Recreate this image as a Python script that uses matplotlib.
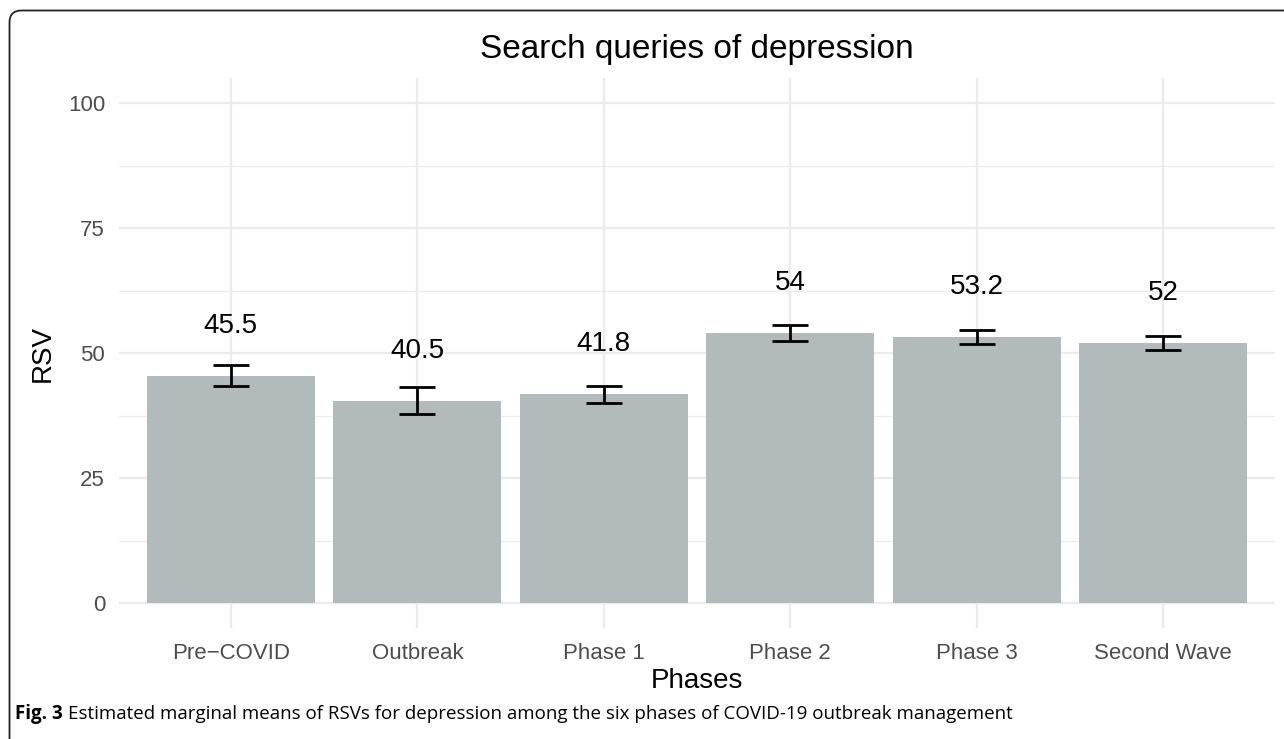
"""Search queries of depression: estimated marginal means by phase."""

import matplotlib
matplotlib.use("Agg")
import matplotlib.pyplot as plt
from matplotlib.patches import FancyBboxPatch
import numpy as np

phases = ["Pre\u2212COVID", "Outbreak", "Phase 1", "Phase 2", "Phase 3", "Second Wave"]
means = [45.5, 40.5, 41.8, 54.0, 53.2, 52.0]
lower = [43.5, 37.8, 40.1, 52.4, 51.8, 50.6]
upper = [47.7, 43.3, 43.5, 55.7, 54.6, 53.4]
mean_labels = ["45.5", "40.5", "41.8", "54", "53.2", "52"]
y_ticks = [0, 25, 50, 75, 100]

W, H = 1284, 739
plt.rcParams["font.family"] = ["Liberation Sans", "DejaVu Sans"]

fig = plt.figure(figsize=(W / 100, H / 100), dpi=100)

# panel in pixel coords (from top-left)
left, right, top, bottom = 119, 1275, 78, 628
ax = fig.add_axes([left / W, 1 - bottom / H, (right - left) / W, (bottom - top) / H])

x = np.arange(len(phases))
ax.set_xlim(-0.6, len(phases) - 0.4)
ax.set_ylim(-5, 105)

ax.set_yticks(y_ticks)
ax.set_yticks([12.5, 37.5, 62.5, 87.5], minor=True)
ax.set_xticks(x)
ax.set_xticklabels(phases)
ax.grid(which="major", color="#EBEBEB", lw=1.7)
ax.grid(which="minor", axis="y", color="#EBEBEB", lw=0.9)
ax.set_axisbelow(True)
for s in ax.spines.values():
    s.set_visible(False)
ax.tick_params(which="both", length=0)
ax.tick_params(axis="y", labelsize=16, labelcolor="#4D4D4D", pad=10)
ax.tick_params(axis="x", labelsize=16, labelcolor="#4D4D4D", pad=11)

ax.bar(x, means, width=0.9, color="#B2BABB", zorder=2)
err = [np.array(means) - np.array(lower), np.array(upper) - np.array(means)]
ax.errorbar(x, means, yerr=err, fmt="none", ecolor="black", elinewidth=2.0,
            capsize=13.3, capthick=2.0, zorder=3)
for xi, m, lab in zip(x, means, mean_labels):
    ax.text(xi, m + 10, lab, ha="center", va="center", fontsize=20, color="black")

fig.text((left + right) / 2 / W, 1 - 58 / H, "Search queries of depression",
         ha="center", va="baseline", fontsize=24)
fig.text((left + right) / 2 / W, 1 - 681 / H, "Phases", ha="center", va="center",
         fontsize=20)
fig.text(43 / W, 1 - (top + bottom) / 2 / H, "RSV", ha="center", va="center",
         rotation=90, fontsize=20)

# caption
cap = fig.text(15 / W, 1 - 719 / H, "Fig. 3", ha="left", va="baseline",
               fontsize=13.5, fontweight="bold", family=["Open Sans", "DejaVu Sans"])
fig.canvas.draw()
bb = cap.get_window_extent()
fig.text((bb.x1 + 5) / W, 1 - 719 / H,
         "Estimated marginal means of RSVs for depression among the six phases of "
         "COVID-19 outbreak management",
         ha="left", va="baseline", fontsize=13.5, family=["Open Sans", "DejaVu Sans"])

# rounded frame, open on the right
frame = FancyBboxPatch((9.5, -20), W + 40, H - 10.5 + 20,
                       boxstyle="round,pad=0,rounding_size=12",
                       transform=None, fill=False, ec="#222222", lw=1.3)
fig.patches.append(frame)

fig.savefig("out.png", dpi=100)
